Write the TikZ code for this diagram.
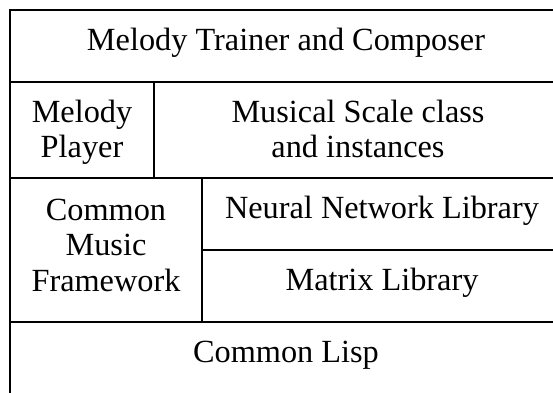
\documentclass[tikz,border=0pt]{standalone}
\usepackage{fontspec}
\setmainfont{Liberation Serif}
\tikzset{layer/.style={draw,line width=1.2pt,inner sep=0pt,outer sep=0pt,
    align=center,font=\fontsize{32.3}{35.5}\selectfont},
  oneline/.style={text height=22pt,text depth=14pt},
  twolines/.style={text height=57.5pt,text depth=2.5pt},
  threelines/.style={text height=92.5pt,text depth=10.5pt},
  layerw/.style={minimum width=#1},
  layerh/.style={minimum height=#1}}

\begin{document}
\begin{tikzpicture}[x=1pt,y=-1pt]
  \useasboundingbox (0,0) rectangle (553,392);
  \clip (0,0) rectangle (553,392);
  \node[layer,oneline,layerw=552pt,layerh=72pt] (trainer) at (286,46) {Melody Trainer and Composer};
  \node[layer,twolines,layerw=144pt,layerh=96pt] (player) at (82,130) {Melody\\Player};
  \node[layer,twolines,layerw=408pt,layerh=96pt] (scale) at (358,130) {Musical Scale class\\and instances};
  \node[layer,threelines,layerw=192pt,layerh=144pt] (cmf) at (106,250) {Common\\Music\\Framework};
  \node[layer,oneline,layerw=360pt,layerh=72pt] (neural) at (382,214) {Neural Network Library};
  \node[layer,oneline,layerw=360pt,layerh=72pt] (matrix) at (382,286) {Matrix Library};
  \node[layer,oneline,layerw=552pt,layerh=72pt] (lisp) at (286,358) {Common Lisp};
\end{tikzpicture}
\end{document}
